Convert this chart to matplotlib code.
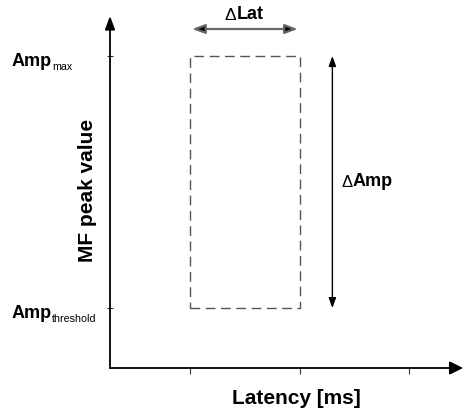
import matplotlib
matplotlib.use("Agg")
import matplotlib.pyplot as plt

# ---- data (schematic) ----
latency_ticks = [1, 2, 3]
amp_levels = [1, 2]                      # threshold, max
amp_names = ["Amp", "Amp"]
amp_subs = ["threshold", "max"]
window_latency = [1, 2]                  # ΔLat span
window_amp = [1, 2]                      # ΔAmp span
x_label = "Latency [ms]"
y_label = "MF peak value"
dlat_label = "Lat"
damp_label = "Amp"
delta = "\u0394"

plt.rcParams['font.family'] = ['Liberation Sans', 'DejaVu Sans']

W, H = 463, 414
fig = plt.figure(figsize=(W / 100, H / 100), dpi=100)
ax = fig.add_axes([110 / W, (H - 369) / H, (W - 110) / W, (369 - 17) / H])
ax.set_xlim(0.2694, 3.488)
ax.set_ylim(0.762, 2.159)
for s in ax.spines.values():
    s.set_visible(False)

# axes arrows
ax.annotate("", xy=(0, 1), xytext=(0, 0), xycoords="axes fraction",
            arrowprops=dict(arrowstyle="-|>,head_length=0.8,head_width=0.3",
                            color="black", lw=1.3, shrinkA=0, shrinkB=0,
                            mutation_scale=10))
ax.annotate("", xy=(1, 0), xytext=(0, 0), xycoords="axes fraction",
            arrowprops=dict(arrowstyle="-|>,head_length=0.8,head_width=0.4",
                            color="black", lw=1.3, shrinkA=0, shrinkB=0,
                            mutation_scale=10))

# ticks
ax.set_xticks(latency_ticks)
ax.set_yticks(amp_levels)
ax.tick_params(axis="x", direction="out", length=4, width=0.8, color="#333333",
               labelbottom=False)
ax.tick_params(axis="y", direction="inout", length=5, width=0.8, color="#333333",
               labelleft=False)

# dashed window
l0, l1 = window_latency
a0, a1 = window_amp
ax.plot([l0, l1, l1, l0, l0], [a0, a0, a1, a1, a0], color="#555555", lw=1.0,
        dashes=(7, 4))

# ΔLat arrow
dlat_y = 0.963
ax.annotate("", xy=(l0, dlat_y), xytext=(l1, dlat_y),
            xycoords=("data", "axes fraction"),
            arrowprops=dict(arrowstyle="<|-|>,head_length=0.75,head_width=0.28",
                            edgecolor="#666666", facecolor="black", lw=1.6,
                            shrinkA=-1.5, shrinkB=-1.5, mutation_scale=10))
tD = ax.annotate(delta, xy=((l0 + l1) / 2, 0.991), xycoords=("data", "axes fraction"),
                 xytext=(-14.5, 0), textcoords="offset points",
                 ha="left", va="baseline", fontsize=12.5)
ax.annotate(dlat_label, xy=(1, 0), xycoords=tD, xytext=(0.3, 0),
            textcoords="offset points", ha="left", va="bottom",
            fontsize=13, fontweight="bold")

# ΔAmp arrow
damp_x = 2.297
ax.annotate("", xy=(damp_x, a1), xytext=(damp_x, a0),
            arrowprops=dict(arrowstyle="<|-|>,head_length=0.6,head_width=0.22",
                            color="black", lw=1.0, shrinkA=0, shrinkB=0,
                            mutation_scale=10))
tA = ax.annotate(delta, xy=(damp_x, (a0 + a1) / 2), xytext=(6.5, -2.5),
                 textcoords="offset points", ha="left", va="baseline", fontsize=12)
ax.annotate(damp_label, xy=(1, 0), xycoords=tA, xytext=(0.0, 0),
            textcoords="offset points", ha="left", va="bottom",
            fontsize=13, fontweight="bold")

# Amp level labels
for name, sub, lvl in zip(amp_names, amp_subs, amp_levels):
    t = ax.annotate(name, xy=(-0.2776, lvl), xycoords=("axes fraction", "data"),
                    xytext=(0, -6.5), textcoords="offset points",
                    ha="left", va="baseline", fontsize=13, fontweight="bold")
    ax.annotate(sub, xy=(1, 0), xycoords=t, xytext=(0.0, 0.3),
                textcoords="offset points", ha="left", va="baseline",
                fontsize=7.7)

# axis labels
ax.text(0.528, -0.0994, x_label, transform=ax.transAxes, ha="center",
        va="baseline", fontsize=15, fontweight="bold")
ax.text(-0.048, 0.506, y_label, transform=ax.transAxes, ha="center",
        va="baseline", rotation=90, rotation_mode="anchor",
        fontsize=15, fontweight="bold")

fig.savefig("out.png", dpi=100)
